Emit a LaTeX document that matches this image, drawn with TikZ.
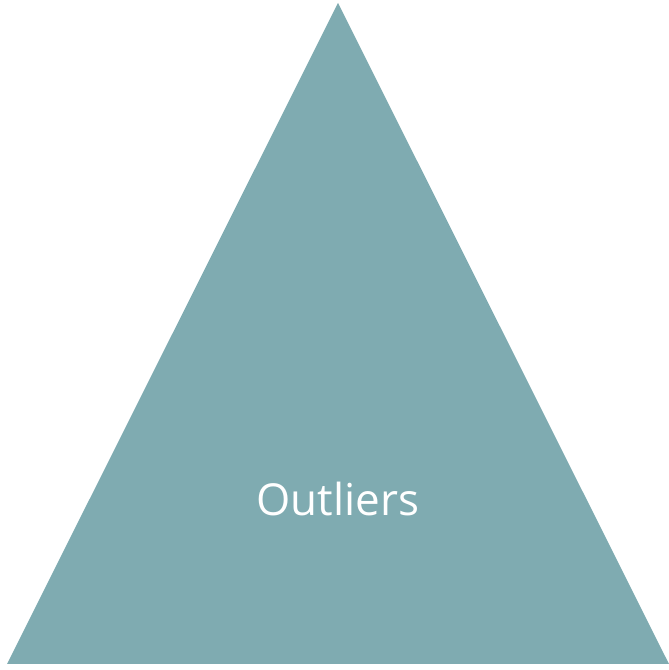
\documentclass[tikz,border=0pt]{standalone}
\usepackage{fontspec}
\setmainfont{Open Sans}
\definecolor{tri}{HTML}{7FABB1}
\begin{document}
\begin{tikzpicture}[x=1pt,y=1pt,
  tribox/.style={fill=tri,draw=none},
  lbl/.style={text=white,font=\fontsize{44}{52}\selectfont,inner sep=0pt}]
\useasboundingbox (0,0) rectangle (669,670);
\coordinate (apex) at (338,667);
\coordinate (bl) at (7,6);
\coordinate (br) at (669,6);
\fill[tribox] (apex) -- (bl) -- (br) -- cycle;
\node[lbl] (t) at (338,171) {Outliers};
\end{tikzpicture}
\end{document}
